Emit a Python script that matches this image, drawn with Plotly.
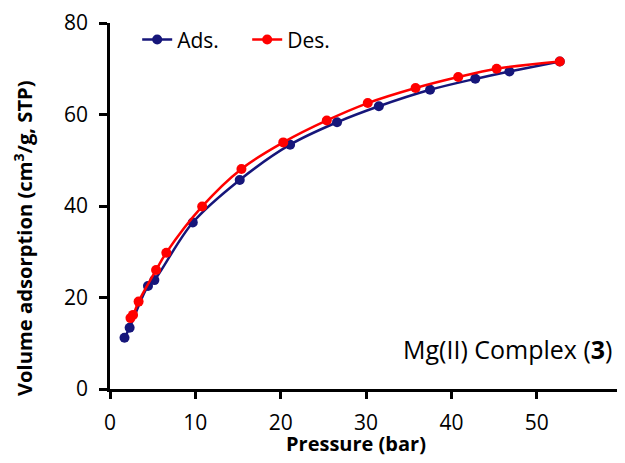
import plotly.graph_objects as go

# Adsorption branch
ads_p = [1.7, 2.3, 4.45, 5.2, 9.7, 15.2, 21.1, 26.6, 31.5, 37.5, 42.8, 46.8, 52.7]
ads_v = [11.2, 13.4, 22.5, 23.8, 36.4, 45.7, 53.4, 58.3, 61.8, 65.4, 67.8, 69.4, 71.6]

# Desorption branch
des_p = [2.4, 2.7, 3.35, 5.4, 6.6, 10.8, 15.4, 20.3, 25.4, 30.2, 35.8, 40.8, 45.3, 52.7]
des_v = [15.5, 16.2, 19.1, 26.0, 29.8, 39.9, 48.1, 53.9, 58.7, 62.5, 65.8, 68.2, 70.0, 71.6]

x_ticks = [0, 10, 20, 30, 40, 50]
y_ticks = [0, 20, 40, 60, 80]

FONT = "Open Sans"
NAVY = "#16167a"
RED = "#ff0000"

# page body has an 8px margin: compensate so the plot area sits at 110..625 x 23..389 on screen
L, T, B = 102, 15, 82
PW = 625 - L          # plot width in div pixels
PH = 463 - T - B      # plot height

fig = go.Figure()
fig.add_trace(go.Scatter(
    x=ads_p, y=ads_v, name="Ads.", mode="lines+markers",
    line=dict(color=NAVY, width=2.5, shape="spline", smoothing=1.0),
    marker=dict(color=NAVY, size=10),
))
fig.add_trace(go.Scatter(
    x=des_p, y=des_v, name="Des.", mode="lines+markers",
    line=dict(color=RED, width=2.5, shape="spline", smoothing=1.0),
    marker=dict(color=RED, size=10),
))

fig.update_layout(
    width=625, height=463,
    margin=dict(l=L, r=0, t=T, b=B),
    paper_bgcolor="white", plot_bgcolor="white",
    font=dict(family=FONT, size=20, color="black"),
    showlegend=True,
    legend=dict(
        orientation="h", x=0.052, y=1.01, xanchor="left", yanchor="top",
        bgcolor="rgba(0,0,0,0)", font=dict(family=FONT, size=21),
        entrywidth=65, entrywidthmode="pixels", tracegroupgap=0,
    ),
    xaxis=dict(
        range=[0, PW / 8.535], tickvals=x_ticks, ticktext=[str(v) for v in x_ticks],
        showgrid=False, zeroline=False, showline=True, linecolor="black", linewidth=2.5,
        ticks="outside", ticklen=7, tickwidth=2.5, tickcolor="black",
        tickfont=dict(family=FONT, size=21), ticklabelstandoff=6,
    ),
    yaxis=dict(
        range=[0, 80], tickvals=y_ticks, ticktext=[str(v) for v in y_ticks],
        showgrid=False, zeroline=False, showline=True, linecolor="black", linewidth=2.5,
        ticks="outside", ticklen=8, tickwidth=2.5, tickcolor="black",
        tickfont=dict(family=FONT, size=21), ticklabelstandoff=7,
    ),
    annotations=[
        dict(text="<b>Pressure (bar)</b>", xref="paper", yref="paper",
             x=(356 - 110) / PW, y=-54 / PH, xanchor="center", yanchor="middle",
             showarrow=False, font=dict(family=FONT, size=20)),
        dict(text="<b>Volume adsorption (cm<sup>3</sup>/g, STP)</b>", xref="paper", yref="paper",
             x=-87 / PW, y=(389 - 238) / PH, xanchor="center", yanchor="middle",
             textangle=-90, showarrow=False, font=dict(family=FONT, size=20.2)),
        dict(text="Mg(II) Complex (<b>3</b>)", xref="paper", yref="paper",
             x=(614 - 110) / PW, y=(389 - 349) / PH, xanchor="right", yanchor="middle",
             showarrow=False, font=dict(family=FONT, size=25)),
    ],
)

fig.write_html("out.html")
